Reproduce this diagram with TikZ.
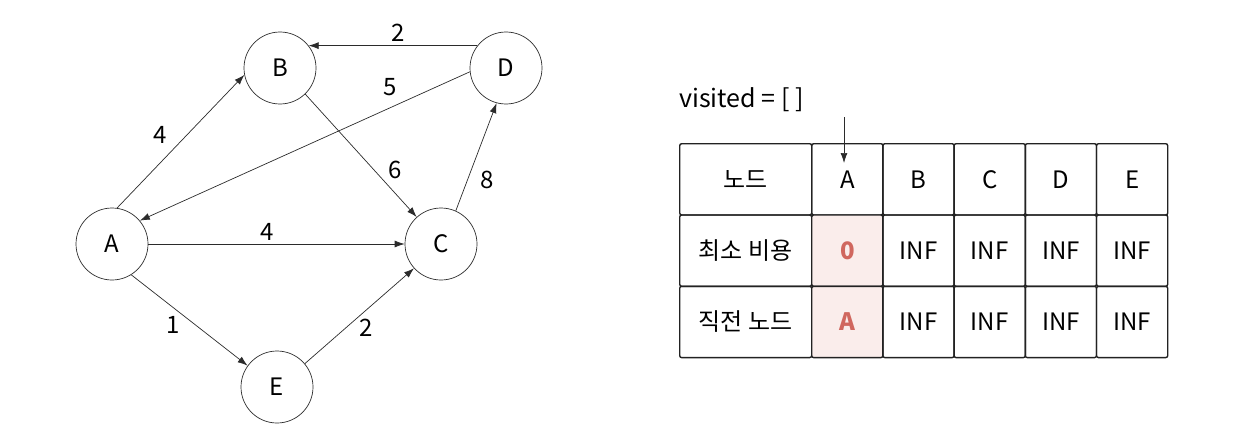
\documentclass[tikz,border=0pt]{standalone}
\usepackage{fontspec}
\setmainfont{Noto Sans CJK KR}
\usetikzlibrary{arrows.meta}
\definecolor{edgegray}{HTML}{2B2B2B}
\definecolor{cellline}{HTML}{222222}
\definecolor{pinkbg}{HTML}{FAEDEB}
\definecolor{redtext}{HTML}{D0675E}
\begin{document}
\begin{tikzpicture}[x=1pt,y=-1pt,
  vertex/.style={circle, draw=edgegray, line width=0.7pt, minimum size=72pt, inner sep=0pt,
    font=\fontsize{24}{28}\selectfont},
  edge/.style={draw=edgegray, line width=0.7pt, -{Latex[length=10pt,width=7pt]}},
  weight/.style={font=\fontsize{24}{28}\selectfont, inner sep=0pt},
  cell/.style={draw=cellline, line width=1.4pt, rounded corners=2pt, minimum height=71.3pt,
    minimum width=71.2pt, inner sep=0pt, anchor=north west, font=\fontsize{24}{28}\selectfont},
  wide/.style={cell, minimum width=132pt},
  hicell/.style={cell, fill=pinkbg, text=redtext, font=\fontsize{24}{28}\selectfont\bfseries}]
\useasboundingbox (0,0) rectangle (1238,444);

% graph vertices
\node[vertex] (A) at (112,244) {A};
\node[vertex] (B) at (280,68) {B};
\node[vertex] (C) at (441,244) {C};
\node[vertex] (D) at (506,68) {D};
\node[vertex] (E) at (277,387) {E};

% weighted directed edges
\draw[edge] (D.142) -- (B.38);
\draw[edge] (D.186) -- (A.40);
\draw[edge] (A.82) -- (B.191);
\draw[edge] (B.-46) -- (C.132);
\draw[edge] (C.66) -- (D.255);
\draw[edge] (A.east) -- (C.west);
\draw[edge] (A.-58) -- (E.144);
\draw[edge] (E.40) -- (C.222);

% edge weights
\node[weight] (w1) at (398,33) {2};
\node[weight] (w2) at (390,87) {5};
\node[weight] (w3) at (160,135) {4};
\node[weight] (w4) at (395,170) {6};
\node[weight] (w5) at (487,180) {8};
\node[weight] (w6) at (267,232) {4};
\node[weight] (w7) at (173,325) {1};
\node[weight] (w8) at (366,328) {2};

% visited list
\node[anchor=base west, inner sep=0pt, font=\fontsize{25}{29}\selectfont] (visited) at (679,107) {visited = [ ]};

% distance table
\node[wide] (h0) at (679,143) {노드};
\node[cell] (hA) at (811,143) {A};
\node[cell] (hB) at (882.2,143) {B};
\node[cell] (hC) at (953.4,143) {C};
\node[cell] (hD) at (1024.6,143) {D};
\node[cell] (hE) at (1095.8,143) {E};

\node[wide] (c0) at (679,214.3) {최소 비용};
\node[hicell] (cA) at (811,214.3) {0};
\node[cell] (cB) at (882.2,214.3) {INF};
\node[cell] (cC) at (953.4,214.3) {INF};
\node[cell] (cD) at (1024.6,214.3) {INF};
\node[cell] (cE) at (1095.8,214.3) {INF};

\node[wide] (p0) at (679,285.6) {직전 노드};
\node[hicell] (pA) at (811,285.6) {A};
\node[cell] (pB) at (882.2,285.6) {INF};
\node[cell] (pC) at (953.4,285.6) {INF};
\node[cell] (pD) at (1024.6,285.6) {INF};
\node[cell] (pE) at (1095.8,285.6) {INF};

% pointer into the table
\coordinate (ptop) at (844,117);
\coordinate (ptip) at (844,163);
\draw[edge] (ptop) -- (ptip);
\end{tikzpicture}
\end{document}
